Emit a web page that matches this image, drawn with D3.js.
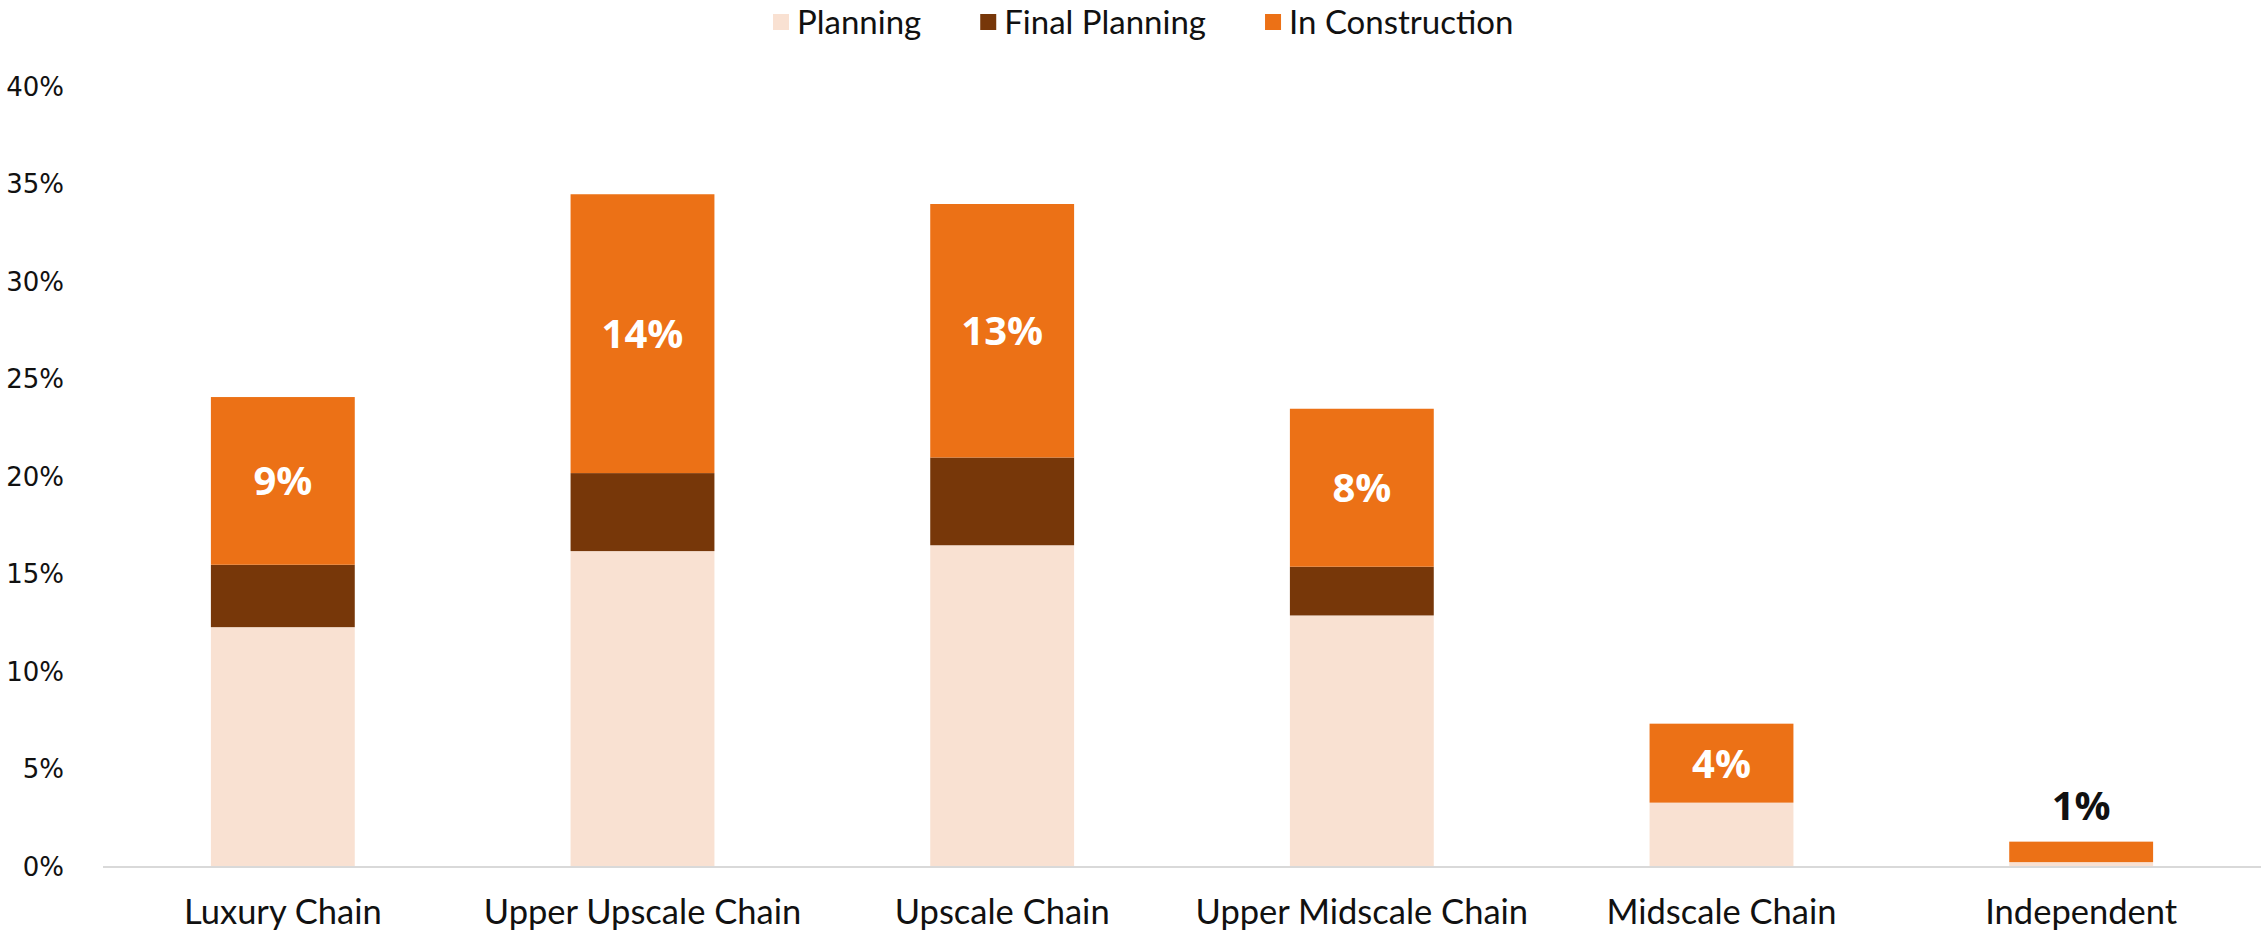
<!DOCTYPE html>
<html>
<head>
<meta charset="utf-8">
<style>
  body { margin: 0; background: #fff; }
  svg { display: block; }
  .y .tick text { font-family: 'DejaVu Sans', sans-serif; font-size: 26px; fill: #111; }
  .x .tick text { font-family: Lato, sans-serif; font-size: 34.5px; fill: #111; }
  .legend text { font-family: Lato, sans-serif; font-size: 33px; fill: #111; }
  .value { font-family: 'Open Sans', sans-serif; font-size: 40px; font-weight: 700; }
</style>
</head>
<body>
<svg width="2265" height="938"></svg>
<script src="https://cdn.jsdelivr.net/npm/d3@7"></script>
<script>
  const categories = ["Luxury Chain", "Upper Upscale Chain", "Upscale Chain", "Upper Midscale Chain", "Midscale Chain", "Independent"];
  const planning = [12.3, 16.2, 16.5, 12.9, 3.3, 0.25];
  const finalPlanning = [3.2, 4.0, 4.5, 2.5, 0, 0];
  const inConstruction = [8.6, 14.3, 13.0, 8.1, 4.05, 1.05];
  const constructionLabels = ["9%", "14%", "13%", "8%", "4%", "1%"];
  const seriesNames = ["Planning", "Final Planning", "In Construction"];
  const seriesColors = ["#F9E1D2", "#773709", "#EC7116"];
  const yTicks = [0, 5, 10, 15, 20, 25, 30, 35, 40];

  const svg = d3.select("svg");
  const margin = { top: 87, right: 4, bottom: 71, left: 103 };
  const width = 2265, height = 938;

  const rows = categories.map((c, i) => ({
    cat: c,
    "Planning": planning[i],
    "Final Planning": finalPlanning[i],
    "In Construction": inConstruction[i],
    label: constructionLabels[i]
  }));

  const stack = d3.stack().keys(seriesNames)(rows);

  const x = d3.scaleBand()
    .domain(categories)
    .range([margin.left, width - margin.right])
    .paddingInner(0.6)
    .paddingOuter(0.3);

  const y = d3.scaleLinear()
    .domain([0, 40])
    .range([height - margin.bottom, margin.top]);

  const color = d3.scaleOrdinal().domain(seriesNames).range(seriesColors);

  // y axis, no line
  svg.append("g")
    .attr("class", "y")
    .attr("transform", `translate(${margin.left},0)`)
    .call(d3.axisLeft(y).tickValues(yTicks).tickSize(0).tickPadding(39).tickFormat(d => d + "%"))
    .call(g => g.select(".domain").remove());

  // bars
  svg.append("g")
    .selectAll("g")
    .data(stack)
    .join("g")
    .attr("fill", d => color(d.key))
    .selectAll("rect")
    .data(d => d)
    .join("rect")
    .attr("x", d => x(d.data.cat))
    .attr("width", x.bandwidth())
    .attr("y", d => y(d[1]))
    .attr("height", d => y(d[0]) - y(d[1]));

  // x axis
  svg.append("g")
    .attr("class", "x")
    .attr("transform", `translate(0,${y(0)})`)
    .call(d3.axisBottom(x).tickSize(0).tickPadding(33))
    .call(g => g.select(".domain").attr("stroke", "#d9d9d9").attr("stroke-width", 2)
      .attr("d", `M${margin.left},0H${width - margin.right}`));

  // labels for the construction segment
  const constr = stack[2];
  svg.append("g")
    .selectAll("text")
    .data(constr)
    .join("text")
    .attr("class", "value")
    .attr("text-anchor", "middle")
    .attr("x", d => x(d.data.cat) + x.bandwidth() / 2)
    .attr("y", d => {
      const h = y(d[0]) - y(d[1]);
      return h > 50 ? (y(d[0]) + y(d[1])) / 2 : y(d[1]) - 36;
    })
    .attr("dy", "0.36em")
    .attr("fill", d => (y(d[0]) - y(d[1]) > 50 ? "#fff" : "#111"))
    .text(d => d.data.label);

  // legend
  const legend = svg.append("g").attr("class", "legend");
  let lx = 773;
  seriesNames.forEach((name, i) => {
    const item = legend.append("g").attr("transform", `translate(${lx},22)`);
    item.append("rect").attr("x", 0).attr("y", -8).attr("width", 16).attr("height", 16).attr("fill", color(name));
    const t = item.append("text").attr("x", 24).attr("dy", "0.35em").text(name);
    lx += 24 + t.node().getComputedTextLength() + 59;
  });
</script>
</body>
</html>
